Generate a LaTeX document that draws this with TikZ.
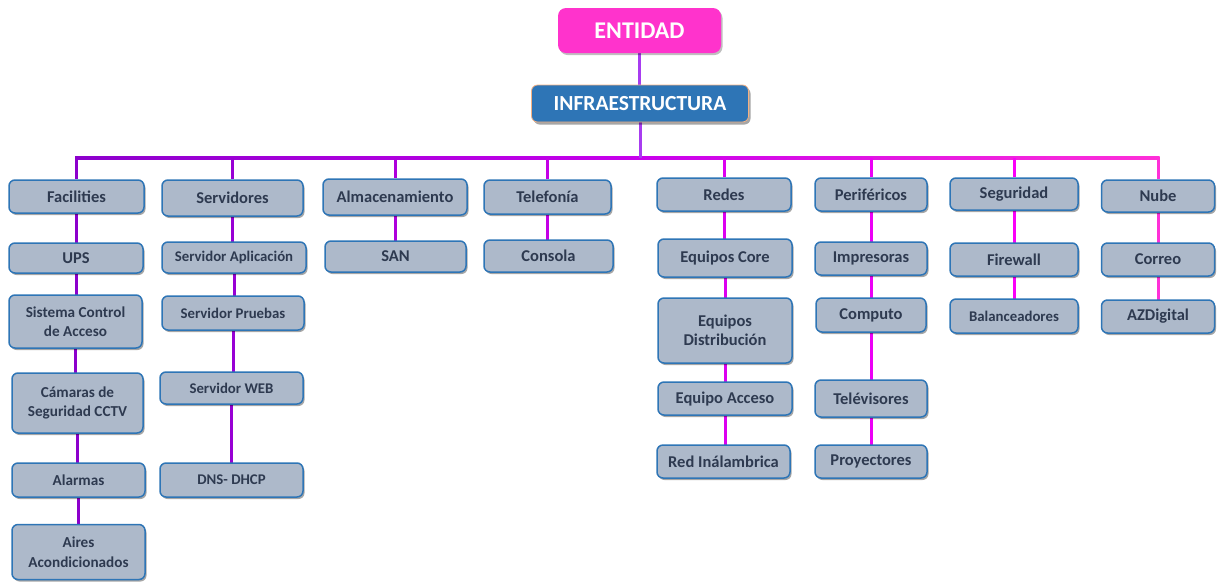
\documentclass[tikz,border=0pt]{standalone}
\usepackage{fontspec}
\setmainfont{Carlito}
\usetikzlibrary{shadows,backgrounds}
\definecolor{boxfill}{HTML}{ADB9CA}
\definecolor{boxdraw}{HTML}{2E75B6}
\definecolor{boxtext}{HTML}{2E3A50}
\definecolor{entfill}{HTML}{FF33CC}
\definecolor{infill}{HTML}{2E75B6}
\definecolor{indraw}{HTML}{F4B183}
\definecolor{topline}{HTML}{A83CF0}
\definecolor{cA}{HTML}{8C00CC}
\definecolor{cB}{HTML}{9800D4}
\definecolor{cC}{HTML}{AE00DC}
\definecolor{cD}{HTML}{C400E6}
\definecolor{cE}{HTML}{DC00F0}
\definecolor{cF}{HTML}{EC00F6}
\definecolor{cG}{HTML}{FA00F8}
\definecolor{cH}{HTML}{FF30D8}
\definecolor{cM}{HTML}{C800EC}
\tikzset{
  bx/.style={draw=boxdraw, line width=1.5pt, fill=boxfill, rounded corners=6pt,
    text=boxtext, font=\bfseries\fontsize{16.5}{19.5}\selectfont, align=center, inner sep=0pt,
    drop shadow={shadow xshift=1.5pt, shadow yshift=-2pt, opacity=0.35, fill=black}},
  sm/.style={font=\bfseries\fontsize{14.8}{18}\selectfont},
  md/.style={font=\bfseries\fontsize{15.2}{19.5}\selectfont},
  wh/.style 2 args={minimum width=#1pt, minimum height=#2pt},
  ln/.style={line width=3pt},
}
\begin{document}
\begin{tikzpicture}[x=1pt,y=-1pt]
\useasboundingbox (0,0) rectangle (1217,582);
% top
\node[fill=entfill, rounded corners=8pt, text=white, font=\bfseries\fontsize{24}{28}\selectfont,
  inner sep=0pt, wh={163}{45}, drop shadow={shadow xshift=1.5pt, shadow yshift=-2pt, opacity=0.25, fill=black}]
  (ent) at (639.5,30.5) {ENTIDAD};
\node[fill=infill, draw=indraw, line width=0.8pt, rounded corners=6pt, text=white,
  font=\bfseries\fontsize{21.5}{25}\selectfont, inner sep=0pt, wh={217}{37},
  drop shadow={shadow xshift=2pt, shadow yshift=-2.5pt, opacity=0.35, fill=black}]
  (inf) at (640,103.5) {INFRAESTRUCTURA};
% row 1
\node[bx, wh={135}{33}] (fac) at (76.5,196.5) {Facilities};
\node[bx, wh={141}{36}] (ser) at (232.5,198) {Servidores};
\node[bx, wh={144}{36}] (alm) at (395,197) {Almacenamiento};
\node[bx, wh={127}{34}] (tel) at (547.5,197) {Telefonía};
\node[bx, wh={134}{33}] (red) at (724,194.5) {Redes};
\node[bx, wh={112}{33}] (per) at (871,194.5) {Periféricos};
\node[bx, wh={128}{32}] (seg) at (1014,194) {Seguridad};
\node[bx, wh={113}{32}] (nub) at (1158,196) {Nube};
% col 1
\node[bx, wh={134}{30}] (ups) at (76,258) {UPS};
\node[bx, md, wh={133}{53}] (sca) at (75.5,321.5) {Sistema Control\\de Acceso};
\node[bx, md, wh={131}{60}] (cam) at (77.5,403) {Cámaras de\\Seguridad CCTV};
\node[bx, md, wh={133}{34}] (ala) at (78.5,480) {Alarmas};
\node[bx, md, wh={133}{55}] (air) at (78.5,552) {Aires\\Acondicionados};
% col 2
\node[bx, sm, wh={144}{31}] (sap) at (234,257.5) {Servidor Aplicación};
\node[bx, sm, wh={142}{34}] (spr) at (233,313) {Servidor Pruebas};
\node[bx, sm, wh={143}{32}] (swe) at (231.5,388) {Servidor WEB};
\node[bx, sm, wh={143}{34}] (dns) at (231.5,480) {DNS- DHCP};
% col 3,4
\node[bx, wh={141}{31}] (san) at (395.5,256.5) {SAN};
\node[bx, wh={129}{32}] (con) at (548.5,256) {Consola};
% col 5
\node[bx, wh={134}{38}] (eco) at (725,258) {Equipos Core};
\node[bx, wh={134}{65}] (edi) at (725,330.5) {Equipos\\Distribución};
\node[bx, wh={134}{33}] (eac) at (725,398.5) {Equipo Acceso};
\node[bx, wh={133}{33}] (ina) at (723.5,461.5) {Red Inálambrica};
% col 6
\node[bx, wh={112}{33}] (imp) at (871,258.5) {Impresoras};
\node[bx, wh={110}{34}] (com) at (871,315) {Computo};
\node[bx, wh={112}{37}] (tvs) at (871,398.5) {Telévisores};
\node[bx, wh={112}{33}] (pro) at (871,461.5) {Proyectores};
% col 7
\node[bx, wh={128}{33}] (fir) at (1014,259.5) {Firewall};
\node[bx, sm, wh={128}{34}] (bal) at (1014,316) {Balanceadores};
% col 8
\node[bx, wh={113}{33}] (cor) at (1158,259.5) {Correo};
\node[bx, wh={113}{33}] (azd) at (1158,316.5) {AZDigital};
% connectors
\coordinate (busY) at (0,158);
\begin{scope}[on background layer]
\fill[white] (0,0) rectangle (1217,582);
\coordinate (bl) at (fac |- busY);
\coordinate (bm) at (inf |- busY);
\coordinate (br) at (nub |- busY);
\shade[left color=cA, right color=cM] ([xshift=-1.5pt,yshift=1.5pt]bl) rectangle ([yshift=-1.5pt]bm);
\shade[left color=cM, right color=cH] ([yshift=1.5pt]bm) rectangle ([xshift=1.5pt,yshift=-1.5pt]br);
\draw[ln, topline] (ent) -- (ent |- inf);
\draw[ln, topline] (inf) -- (bm);
\draw[ln, cA] (bl) -- (fac) -- (fac |- ups) (ups) -- (ups |- sca) (sca) -- (sca |- cam) (cam) -- (cam |- ala) (ala) -- (ala |- air);
\draw[ln, cB] (ser |- busY) -- (ser) -- (ser |- sap) (sap) -- (sap |- spr) (spr) -- (spr |- swe) (swe) -- (swe |- dns);
\draw[ln, cC] (alm |- busY) -- (alm) -- (alm |- san);
\draw[ln, cD] (tel |- busY) -- (tel) -- (tel |- con);
\draw[ln, cE] (red |- busY) -- (red) -- (red |- eco) (eco) -- (eco |- edi) (edi) -- (edi |- eac) (eac) -- (eac |- ina);
\draw[ln, cF] (per |- busY) -- (per) -- (per |- imp) (imp) -- (imp |- com) (com) -- (com |- tvs) (tvs) -- (tvs |- pro);
\draw[ln, cG] (seg |- busY) -- (seg) -- (seg |- fir) (fir) -- (fir |- bal);
\draw[ln, cH] (br) -- (nub) -- (nub |- cor) (cor) -- (cor |- azd);
\end{scope}
\end{tikzpicture}
\end{document}
